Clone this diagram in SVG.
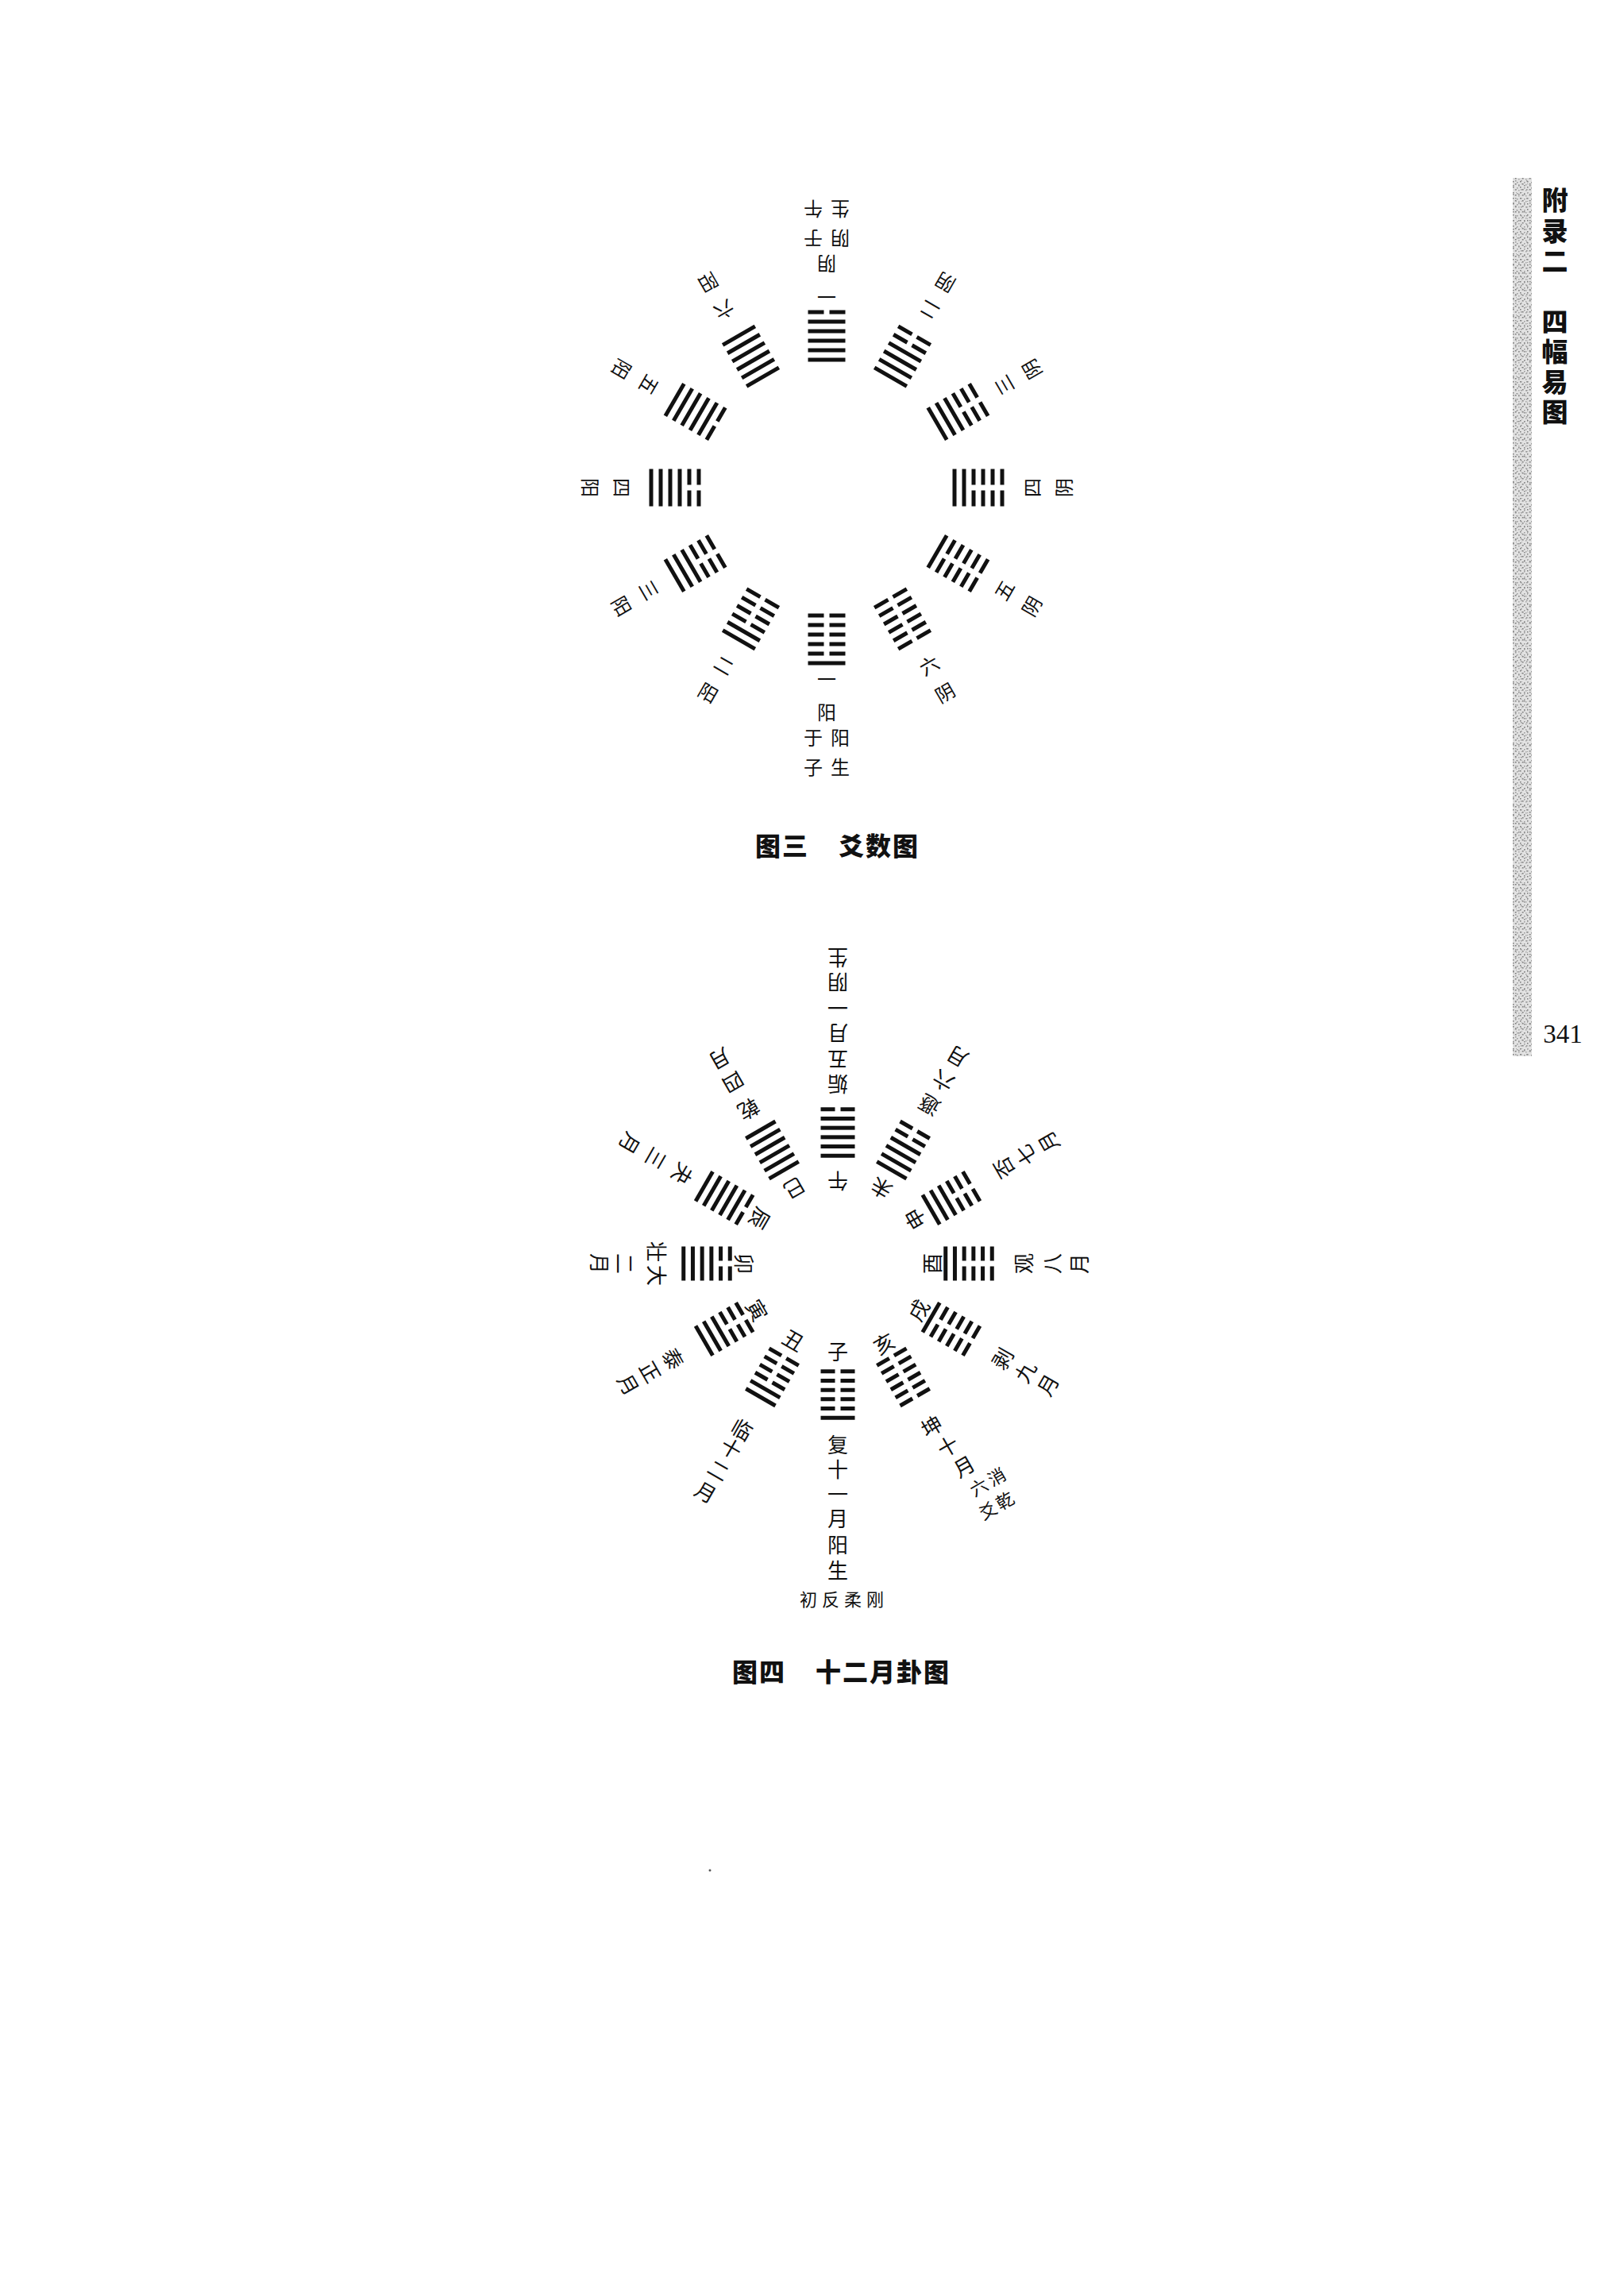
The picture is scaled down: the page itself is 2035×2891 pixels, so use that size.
<svg xmlns="http://www.w3.org/2000/svg" xmlns:xlink="http://www.w3.org/1999/xlink" width="2035" height="2891" viewBox="0 0 2035 2891">
<defs>
<style>
.t{font-family:"Noto Sans CJK SC","Noto Sans CJK JP",sans-serif;fill:#111;text-anchor:middle;dominant-baseline:central}
.t1{font-size:24px}
.t2{font-size:26px}
.t3{font-size:22px}
.ttl{font-family:"Noto Sans CJK SC","Noto Sans CJK JP",sans-serif;font-size:32px;font-weight:900;fill:#111;letter-spacing:2px;dominant-baseline:central}
.hdr{font-family:"Noto Sans CJK SC","Noto Sans CJK JP",sans-serif;font-size:33px;font-weight:900;fill:#111;text-anchor:middle;dominant-baseline:central}
.pg{font-family:"Liberation Serif",serif;font-size:33px;fill:#111;text-anchor:middle;dominant-baseline:central}
.ln{fill:#111}
</style>
<rect id="ts" class="ln" x="-23.5" y="-2.5" width="47" height="5"/>
<path id="tb" class="ln" d="M-23.5,-2.5h20v5h-20z M3.5,-2.5h20v5h-20z"/>
<rect id="bs" class="ln" x="-21.5" y="-2.5" width="43" height="5"/>
<path id="bb" class="ln" d="M-21.5,-2.5h18v5h-18z M3.5,-2.5h18v5h-18z"/>
<pattern id="speck" width="9" height="7" patternUnits="userSpaceOnUse">
<rect width="9" height="7" fill="#e2e2e2"/>
<rect x="0" y="0" width="1.5" height="1.5" fill="#777"/>
<rect x="4" y="1" width="1.5" height="1.5" fill="#a5a5a5"/>
<rect x="6" y="4" width="1.5" height="1.5" fill="#7a7a7a"/>
<rect x="2" y="5" width="1.5" height="1.5" fill="#999"/>
<rect x="7.5" y="0.5" width="1" height="1" fill="#b5b5b5"/>
</pattern>
<pattern id="speck2" width="7" height="11" patternUnits="userSpaceOnUse">
<rect x="1" y="2" width="1.5" height="1.5" fill="#888"/>
<rect x="4" y="7" width="1.5" height="1.5" fill="#959595"/>
<rect x="5" y="0" width="1" height="1" fill="#aaa"/>
</pattern>
</defs>
<rect width="2035" height="2891" fill="#fff"/>

<!-- margin -->
<g id="margin">
<rect x="1905" y="224" width="24" height="1106" fill="url(#speck)"/>
<rect x="1905" y="224" width="24" height="1106" fill="url(#speck2)"/>
<text class="hdr" x="1958" y="250">附</text>
<text class="hdr" x="1958" y="289">录</text>
<text class="hdr" x="1958" y="327">二</text>
<text class="hdr" x="1958" y="403">四</text>
<text class="hdr" x="1958" y="441">幅</text>
<text class="hdr" x="1958" y="479">易</text>
<text class="hdr" x="1958" y="517">图</text>
<text class="pg" x="1968" y="1302">341</text>
</g>

<g id="connectors"></g>

<!-- ===== Figure 3 ===== -->
<g id="fig3">
<g id="t0" transform="translate(1041,614) rotate(180)">
<g transform="translate(0,191)"><use href="#tb" y="30"/><use href="#ts" y="18"/><use href="#ts" y="6"/><use href="#ts" y="-6"/><use href="#ts" y="-18"/><use href="#ts" y="-30"/></g>
<text class="t t1" transform="translate(0,239)">一</text>
<text class="t t1" transform="translate(0,281)">阴</text>
<text class="t t1" transform="translate(17,313)">于</text>
<text class="t t1" transform="translate(-17,313)">阴</text>
<text class="t t1" transform="translate(17,350)">午</text>
<text class="t t1" transform="translate(-17,350)">生</text>
</g>
<g id="t30" transform="translate(1041,614) rotate(210)">
<g transform="translate(0,191)"><use href="#tb" y="30"/><use href="#tb" y="18"/><use href="#ts" y="6"/><use href="#ts" y="-6"/><use href="#ts" y="-18"/><use href="#ts" y="-30"/></g>
<text class="t t1" transform="translate(0,257)">二</text>
<text class="t t1" transform="translate(0,297)">阴</text>
</g>
<g id="t60" transform="translate(1041,614) rotate(240)">
<g transform="translate(0,191)"><use href="#tb" y="30"/><use href="#tb" y="18"/><use href="#tb" y="6"/><use href="#ts" y="-6"/><use href="#ts" y="-18"/><use href="#ts" y="-30"/></g>
<text class="t t1" transform="translate(0,257)">三</text>
<text class="t t1" transform="translate(0,297)">阴</text>
</g>
<g id="t90" transform="translate(1041,614) rotate(270)">
<g transform="translate(0,191)"><use href="#tb" y="30"/><use href="#tb" y="18"/><use href="#tb" y="6"/><use href="#tb" y="-6"/><use href="#ts" y="-18"/><use href="#ts" y="-30"/></g>
<text class="t t1" transform="translate(0,257)">四</text>
<text class="t t1" transform="translate(0,297)">阴</text>
</g>
<g id="t120" transform="translate(1041,614) rotate(300)">
<g transform="translate(0,191)"><use href="#tb" y="30"/><use href="#tb" y="18"/><use href="#tb" y="6"/><use href="#tb" y="-6"/><use href="#tb" y="-18"/><use href="#ts" y="-30"/></g>
<text class="t t1" transform="translate(0,257)">五</text>
<text class="t t1" transform="translate(0,297)">阴</text>
</g>
<g id="t150" transform="translate(1041,614) rotate(330)">
<g transform="translate(0,191)"><use href="#tb" y="30"/><use href="#tb" y="18"/><use href="#tb" y="6"/><use href="#tb" y="-6"/><use href="#tb" y="-18"/><use href="#tb" y="-30"/></g>
<text class="t t1" transform="translate(0,257)">六</text>
<text class="t t1" transform="translate(0,297)">阴</text>
</g>
<g id="t180" transform="translate(1041,614)">
<g transform="translate(0,191)"><use href="#ts" y="30"/><use href="#tb" y="18"/><use href="#tb" y="6"/><use href="#tb" y="-6"/><use href="#tb" y="-18"/><use href="#tb" y="-30"/></g>
<text class="t t1" transform="translate(0,239)">一</text>
<text class="t t1" transform="translate(0,281)">阳</text>
<text class="t t1" transform="translate(-17,313)">于</text>
<text class="t t1" transform="translate(17,313)">阳</text>
<text class="t t1" transform="translate(-17,350)">子</text>
<text class="t t1" transform="translate(17,350)">生</text>
</g>
<g id="t210" transform="translate(1041,614) rotate(30)">
<g transform="translate(0,191)"><use href="#ts" y="30"/><use href="#ts" y="18"/><use href="#tb" y="6"/><use href="#tb" y="-6"/><use href="#tb" y="-18"/><use href="#tb" y="-30"/></g>
<text class="t t1" transform="translate(0,257)">二</text>
<text class="t t1" transform="translate(0,297)">阳</text>
</g>
<g id="t240" transform="translate(1041,614) rotate(60)">
<g transform="translate(0,191)"><use href="#ts" y="30"/><use href="#ts" y="18"/><use href="#ts" y="6"/><use href="#tb" y="-6"/><use href="#tb" y="-18"/><use href="#tb" y="-30"/></g>
<text class="t t1" transform="translate(0,257)">三</text>
<text class="t t1" transform="translate(0,297)">阳</text>
</g>
<g id="t270" transform="translate(1041,614) rotate(90)">
<g transform="translate(0,191)"><use href="#ts" y="30"/><use href="#ts" y="18"/><use href="#ts" y="6"/><use href="#ts" y="-6"/><use href="#tb" y="-18"/><use href="#tb" y="-30"/></g>
<text class="t t1" transform="translate(0,257)">四</text>
<text class="t t1" transform="translate(0,297)">阳</text>
</g>
<g id="t300" transform="translate(1041,614) rotate(120)">
<g transform="translate(0,191)"><use href="#ts" y="30"/><use href="#ts" y="18"/><use href="#ts" y="6"/><use href="#ts" y="-6"/><use href="#ts" y="-18"/><use href="#tb" y="-30"/></g>
<text class="t t1" transform="translate(0,257)">五</text>
<text class="t t1" transform="translate(0,297)">阳</text>
</g>
<g id="t330" transform="translate(1041,614) rotate(150)">
<g transform="translate(0,191)"><use href="#ts" y="30"/><use href="#ts" y="18"/><use href="#ts" y="6"/><use href="#ts" y="-6"/><use href="#ts" y="-18"/><use href="#ts" y="-30"/></g>
<text class="t t1" transform="translate(0,257)">六</text>
<text class="t t1" transform="translate(0,297)">阳</text>
</g>
<g id="title3">
<text class="ttl" x="951" y="1063">图三</text>
<text class="ttl" x="1056" y="1063">爻数图</text>
</g>
</g>

<!-- ===== Figure 4 ===== -->
<g id="fig4">
<g id="b0" transform="translate(1055,1591) rotate(180)">
<text class="t t2" transform="translate(0,103)">午</text>
<g transform="translate(0,165)"><use href="#bb" y="29.25"/><use href="#bs" y="17.55"/><use href="#bs" y="5.85"/><use href="#bs" y="-5.85"/><use href="#bs" y="-17.55"/><use href="#bs" y="-29.25"/></g>
<text class="t t2" transform="translate(0,225)">姤</text>
<text class="t t2" transform="translate(0,256)">五</text>
<text class="t t2" transform="translate(0,289)">月</text>
<text class="t t2" transform="translate(0,321)">一</text>
<text class="t t2" transform="translate(0,353)">阴</text>
<text class="t t2" transform="translate(0,384)">生</text>
</g>
<g id="b30" transform="translate(1055,1591) rotate(210)">
<text class="t t2" transform="translate(0,108)">未</text>
<g transform="translate(0,165)"><use href="#bb" y="29.25"/><use href="#bb" y="17.55"/><use href="#bs" y="5.85"/><use href="#bs" y="-5.85"/><use href="#bs" y="-17.55"/><use href="#bs" y="-29.25"/></g>
<text class="t t2" transform="translate(0,229)">遯</text>
<text class="t t2" transform="translate(0,264)">六</text>
<text class="t t2" transform="translate(0,299)">月</text>
</g>
<g id="b60" transform="translate(1055,1591) rotate(240)">
<text class="t t2" transform="translate(0,111)">申</text>
<g transform="translate(0,165)"><use href="#bb" y="29.25"/><use href="#bb" y="17.55"/><use href="#bb" y="5.85"/><use href="#bs" y="-5.85"/><use href="#bs" y="-17.55"/><use href="#bs" y="-29.25"/></g>
<text class="t t2" transform="translate(0,240)">否</text>
<text class="t t2" transform="translate(0,272)">七</text>
<text class="t t2" transform="translate(0,305)">月</text>
</g>
<g id="b90" transform="translate(1055,1591) rotate(270)">
<text class="t t2" transform="translate(0,117)">酉</text>
<g transform="translate(0,165)"><use href="#bb" y="29.25"/><use href="#bb" y="17.55"/><use href="#bb" y="5.85"/><use href="#bb" y="-5.85"/><use href="#bs" y="-17.55"/><use href="#bs" y="-29.25"/></g>
<text class="t t2" transform="translate(0,232)">观</text>
<text class="t t2" transform="translate(0,268)">八</text>
<text class="t t2" transform="translate(0,302)">月</text>
</g>
<g id="b120" transform="translate(1055,1591) rotate(300)">
<text class="t t2" transform="translate(0,116)">戌</text>
<g transform="translate(0,165)"><use href="#bb" y="29.25"/><use href="#bb" y="17.55"/><use href="#bb" y="5.85"/><use href="#bb" y="-5.85"/><use href="#bb" y="-17.55"/><use href="#bs" y="-29.25"/></g>
<text class="t t2" transform="translate(0,238)">剥</text>
<text class="t t2" transform="translate(0,271)">九</text>
<text class="t t2" transform="translate(0,304)">月</text>
</g>
<g id="b150" transform="translate(1055,1591) rotate(330)">
<text class="t t2" transform="translate(0,115)">亥</text>
<g transform="translate(0,165)"><use href="#bb" y="29.25"/><use href="#bb" y="17.55"/><use href="#bb" y="5.85"/><use href="#bb" y="-5.85"/><use href="#bb" y="-17.55"/><use href="#bb" y="-29.25"/></g>
<text class="t t2" transform="translate(0,235)">坤</text>
<text class="t t2" transform="translate(5,267)">十</text>
<text class="t t2" transform="translate(10,299)">月</text>
<text class="t t3" transform="translate(13,331)">六</text>
<text class="t t3" transform="translate(39,331)">消</text>
<text class="t t3" transform="translate(8,362)">爻</text>
<text class="t t3" transform="translate(33,362)">乾</text>
</g>
<g id="b180" transform="translate(1055,1591)">
<text class="t t2" transform="translate(0,109)">子</text>
<g transform="translate(0,165)"><use href="#bs" y="29.25"/><use href="#bb" y="17.55"/><use href="#bb" y="5.85"/><use href="#bb" y="-5.85"/><use href="#bb" y="-17.55"/><use href="#bb" y="-29.25"/></g>
<text class="t t2" transform="translate(0,226)">复</text>
<text class="t t2" transform="translate(0,257)">十</text>
<text class="t t2" transform="translate(0,288)">一</text>
<text class="t t2" transform="translate(0,319)">月</text>
<text class="t t2" transform="translate(0,352)">阳</text>
<text class="t t2" transform="translate(0,384)">生</text>
<text class="t t3" transform="translate(-37,421)">初</text>
<text class="t t3" transform="translate(-9,421)">反</text>
<text class="t t3" transform="translate(19,421)">柔</text>
<text class="t t3" transform="translate(47,421)">刚</text>
</g>
<g id="b210" transform="translate(1055,1591) rotate(30)">
<text class="t t2" transform="translate(0,110)">丑</text>
<g transform="translate(0,165)"><use href="#bs" y="29.25"/><use href="#bs" y="17.55"/><use href="#bb" y="5.85"/><use href="#bb" y="-5.85"/><use href="#bb" y="-17.55"/><use href="#bb" y="-29.25"/></g>
<text class="t t2" transform="translate(0,240)">临</text>
<text class="t t2" transform="translate(0,267)">十</text>
<text class="t t2" transform="translate(0,299)">二</text>
<text class="t t2" transform="translate(0,331)">月</text>
</g>
<g id="b240" transform="translate(1055,1591) rotate(60)">
<text class="t t2" transform="translate(0,116)">寅</text>
<g transform="translate(0,165)"><use href="#bs" y="29.25"/><use href="#bs" y="17.55"/><use href="#bs" y="5.85"/><use href="#bb" y="-5.85"/><use href="#bb" y="-17.55"/><use href="#bb" y="-29.25"/></g>
<text class="t t2" transform="translate(0,238)">泰</text>
<text class="t t2" transform="translate(0,271)">正</text>
<text class="t t2" transform="translate(0,303)">月</text>
</g>
<g id="b270" transform="translate(1055,1591) rotate(90)">
<text class="t t2" transform="translate(0,117)">卯</text>
<g transform="translate(0,165)"><use href="#bs" y="29.25"/><use href="#bs" y="17.55"/><use href="#bs" y="5.85"/><use href="#bs" y="-5.85"/><use href="#bb" y="-17.55"/><use href="#bb" y="-29.25"/></g>
<text class="t t2" transform="translate(15,227)">大</text>
<text class="t t2" transform="translate(-15,227)">壮</text>
<text class="t t2" transform="translate(0,267)">二</text>
<text class="t t2" transform="translate(0,299)">月</text>
</g>
<g id="b300" transform="translate(1055,1591) rotate(120)">
<text class="t t2" transform="translate(0,112)">辰</text>
<g transform="translate(0,165)"><use href="#bs" y="29.25"/><use href="#bs" y="17.55"/><use href="#bs" y="5.85"/><use href="#bs" y="-5.85"/><use href="#bs" y="-17.55"/><use href="#bb" y="-29.25"/></g>
<text class="t t2" transform="translate(0,224)">夬</text>
<text class="t t2" transform="translate(0,263)">三</text>
<text class="t t2" transform="translate(0,301)">月</text>
</g>
<g id="b330" transform="translate(1055,1591) rotate(150)">
<text class="t t2" transform="translate(0,108)">巳</text>
<g transform="translate(0,165)"><use href="#bs" y="29.25"/><use href="#bs" y="17.55"/><use href="#bs" y="5.85"/><use href="#bs" y="-5.85"/><use href="#bs" y="-17.55"/><use href="#bs" y="-29.25"/></g>
<text class="t t2" transform="translate(0,223)">乾</text>
<text class="t t2" transform="translate(0,262)">四</text>
<text class="t t2" transform="translate(0,296)">月</text>
</g>
<g id="title4">
<text class="ttl" x="922" y="2103">图四</text>
<text class="ttl" x="1027" y="2103">十二月卦图</text>
</g>
</g>
<circle cx="894" cy="2355" r="1.5" fill="#555"/>
</svg>
